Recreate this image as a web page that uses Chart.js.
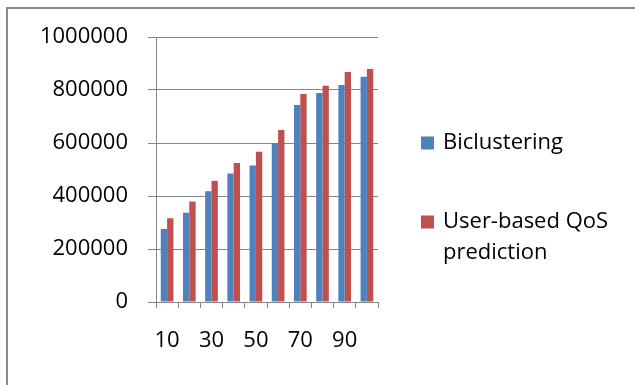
<!DOCTYPE html>
<html>
<head>
<meta charset="utf-8">
<script src="https://cdn.jsdelivr.net/npm/chart.js@4/dist/chart.umd.min.js"></script>
<style>
  html, body { margin: 0; padding: 0; background: #fff; }
  #wrap { width: 635px; height: 385px; position: relative; }
</style>
</head>
<body>
<div id="wrap"><canvas id="chart"></canvas></div>
<script>
const categories = [10, 20, 30, 40, 50, 60, 70, 80, 90, 100];
const biclustering = [276000, 337000, 418000, 485000, 515000, 600000, 743000, 789000, 819000, 850000];
const userBased = [316000, 379000, 457000, 525000, 567000, 649000, 785000, 816000, 868000, 879000];
const seriesNames = ['Biclustering', ['User-based QoS', 'prediction']];
const seriesColors = ['#4F81BD', '#C0504D'];

const FONT = "'Open Sans', 'Liberation Sans', sans-serif";
const axisGray = '#868686';

// frame around the chart + legend on the right
const framePlugin = {
  id: 'frame',
  beforeDraw(chart) {
    const c = chart.ctx;
    c.save();
    c.fillStyle = '#fff';
    c.fillRect(0, 0, chart.width, chart.height);
    c.strokeStyle = '#8a8a8a';
    c.lineWidth = 2;
    c.beginPath();
    c.moveTo(7, chart.height);
    c.lineTo(7, 8);
    c.lineTo(chart.width, 8);
    c.stroke();
    c.restore();
  },
  afterDraw(chart) {
    const c = chart.ctx;
    const rows = [143, 222];
    c.save();
    c.font = '22px ' + FONT;
    c.textBaseline = 'middle';
    c.textAlign = 'left';
    chart.data.datasets.forEach((ds, i) => {
      const y = rows[i];
      c.fillStyle = ds.backgroundColor;
      c.fillRect(421, y - 6.5, 13, 13);
      c.fillStyle = '#000';
      const lines = Array.isArray(ds.label) ? ds.label : [ds.label];
      lines.forEach((t, j) => c.fillText(t, 443, y + j * 31));
    });
    c.restore();
  }
};

new Chart(document.getElementById('chart'), {
  type: 'bar',
  data: {
    labels: categories,
    datasets: [
      { label: seriesNames[0], data: biclustering, backgroundColor: seriesColors[0] },
      { label: seriesNames[1], data: userBased, backgroundColor: seriesColors[1] }
    ]
  },
  options: {
    responsive: true,
    maintainAspectRatio: false,
    animation: false,
    layout: { padding: { left: 0, top: 37, right: 257, bottom: 0 } },
    datasets: { bar: { categoryPercentage: 0.571, barPercentage: 1.0 } },
    plugins: { legend: { display: false }, tooltip: { enabled: false } },
    scales: {
      x: {
        afterFit: s => { s.height = 83; },
        grid: { display: true, drawOnChartArea: false, offset: true, color: axisGray, tickLength: 6, tickColor: axisGray },
        border: { color: axisGray },
        ticks: {
          autoSkip: false,
          maxRotation: 0,
          padding: 20,
          color: '#000',
          font: { family: FONT, size: 22 },
          callback: (v, i) => (i % 2 === 0 ? categories[i] : '')
        }
      },
      y: {
        min: 0,
        max: 1000000,
        afterFit: s => { s.width = 156; },
        grid: { color: axisGray, tickLength: 8, tickColor: axisGray },
        border: { color: axisGray },
        ticks: {
          stepSize: 200000,
          padding: 20,
          color: '#000',
          font: { family: FONT, size: 22 },
          callback: v => String(v)
        }
      }
    }
  },
  plugins: [framePlugin]
});
</script>
</body>
</html>
